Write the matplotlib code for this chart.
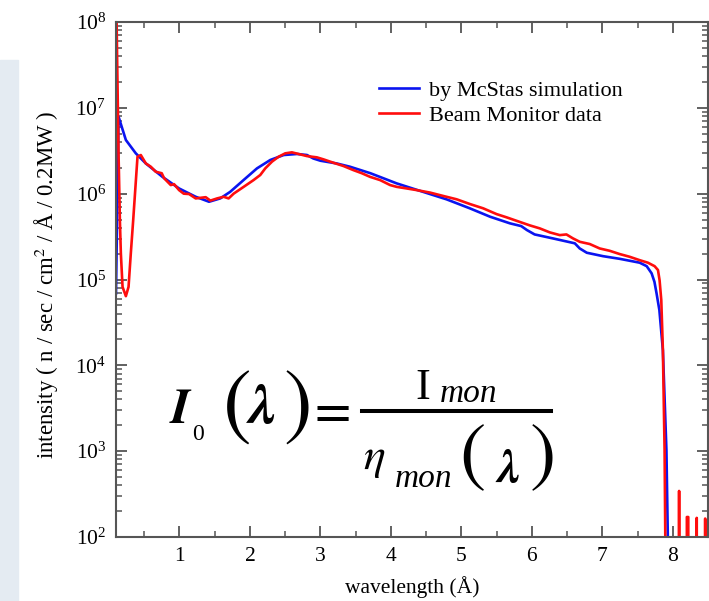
import matplotlib
matplotlib.use("Agg")
import matplotlib.pyplot as plt
from matplotlib.lines import Line2D
from matplotlib.patches import Rectangle
from matplotlib.ticker import LogLocator, MultipleLocator, NullFormatter

plt.rcParams['font.family'] = ['Liberation Serif', 'DejaVu Serif']
plt.rcParams['mathtext.fontset'] = 'stix'

# McStas simulation (wavelength in A, intensity)
sim_wl = [0.10, 0.136, 0.24, 0.381, 0.523, 0.759, 0.995, 1.231, 1.42, 1.58,
          1.72, 1.91, 2.10, 2.29, 2.48, 2.67, 2.81, 2.90, 3.00, 3.23,
          3.42, 3.71, 4.08, 4.41, 4.79, 5.12, 5.41, 5.69, 5.85, 5.93,
          6.04, 6.30, 6.61, 6.68, 6.78, 7.01, 7.25, 7.53, 7.63, 7.70,
          7.74, 7.77, 7.81, 7.86, 7.91, 7.93, 7.95]
sim_int = [6.9e4, 7.89e6, 4.22e6, 2.95e6, 2.25e6, 1.57e6, 1.15e6, 9.2e5, 8.05e5, 8.81e5,
           1.05e6, 1.44e6, 1.97e6, 2.47e6, 2.82e6, 2.90e6, 2.82e6, 2.57e6, 2.42e6, 2.25e6,
           2.06e6, 1.73e6, 1.32e6, 1.08e6, 8.59e5, 6.75e5, 5.38e5, 4.51e5, 4.19e5, 3.77e5,
           3.35e5, 3.01e5, 2.64e5, 2.30e5, 2.05e5, 1.87e5, 1.74e5, 1.57e5, 1.43e5, 1.18e5,
           9.4e4, 6.9e4, 4.4e4, 1.5e4, 1.03e3, 100, 0]

# Beam monitor data
mon_wl = [0.10, 0.108, 0.122, 0.136, 0.155, 0.169, 0.193, 0.24, 0.278, 0.31,
          0.344, 0.405, 0.452, 0.523, 0.594, 0.664, 0.749, 0.783, 0.877, 0.924,
          0.995, 1.061, 1.137, 1.231, 1.373, 1.439, 1.534, 1.627, 1.698, 1.769,
          1.911, 2.052, 2.147, 2.218, 2.313, 2.406, 2.501, 2.596, 2.69, 2.809,
          2.95, 3.044, 3.186, 3.327, 3.469, 3.588, 3.705, 3.847, 3.989, 4.084,
          4.225, 4.367, 4.555, 4.744, 4.933, 5.122, 5.31, 5.50, 5.642, 5.783,
          5.972, 6.113, 6.255, 6.397, 6.491, 6.585, 6.68, 6.822, 6.963, 7.105,
          7.246, 7.388, 7.53, 7.647, 7.742, 7.79, 7.813, 7.837, 7.86, 7.884,
          7.894, 7.91, 8.08, 8.09, 8.10, 8.19, 8.20, 8.22, 8.23, 8.33,
          8.34, 8.35, 8.45, 8.46, 8.47]
mon_int = [2.0e8, 1.05e8, 1.76e7, 2.95e6, 4.92e5, 2.01e5, 8.2e4, 6.4e4, 8.2e4, 2.01e5,
           4.92e5, 2.69e6, 2.82e6, 2.25e6, 2.06e6, 1.80e6, 1.73e6, 1.51e6, 1.26e6, 1.29e6,
           1.10e6, 1.0e6, 9.9e5, 8.8e5, 9.1e5, 8.3e5, 8.8e5, 9.2e5, 8.8e5, 1.0e6,
           1.20e6, 1.44e6, 1.65e6, 1.97e6, 2.36e6, 2.69e6, 2.95e6, 3.03e6, 2.90e6, 2.74e6,
           2.65e6, 2.51e6, 2.29e6, 2.10e6, 1.88e6, 1.73e6, 1.57e6, 1.44e6, 1.26e6, 1.20e6,
           1.15e6, 1.10e6, 1.03e6, 9.4e5, 8.6e5, 7.57e5, 6.75e5, 5.78e5, 5.30e5, 4.83e5,
           4.27e5, 3.94e5, 3.54e5, 3.29e5, 3.35e5, 3.01e5, 2.75e5, 2.59e5, 2.30e5, 2.16e5,
           1.98e5, 1.84e5, 1.68e5, 1.57e5, 1.43e5, 1.29e5, 9.8e4, 5.75e4, 1.5e4, 1.03e3,
           100, 0, 0, 344, 0, 0, 171, 171, 0, 0,
           167, 0, 0, 164, 0]

W, H = 709, 601
fig = plt.figure(figsize=(W / 100, H / 100), dpi=100)
ax = fig.add_axes([116 / W, 1 - 537 / H, 592 / W, 515 / H])

# faint watermark strip on the left edge
fig.patches.append(Rectangle((0, 0), 18 / W, 0.9, transform=fig.transFigure,
                             color='#e4ebf2', zorder=0))

ax.plot(sim_wl, sim_int, color='#0a14f0', lw=1.9, label='by McStas simulation')
ax.plot(mon_wl, mon_int, color='#ff0d0d', lw=1.9, label='Beam Monitor data')

ax.set_yscale('log')
ax.set_xlim(0.1, 8.5)
ax.set_ylim(1e2, 1e8)
ax.xaxis.set_major_locator(MultipleLocator(1))
ax.xaxis.set_minor_locator(MultipleLocator(0.5))
ax.yaxis.set_major_locator(LogLocator(base=10, numticks=10))
ax.yaxis.set_minor_locator(LogLocator(base=10, subs=range(2, 10), numticks=20))
ax.yaxis.set_minor_formatter(NullFormatter())

for s in ax.spines.values():
    s.set_color('#555555')
    s.set_linewidth(1.5)
ax.tick_params(which='both', direction='in', top=True, right=True, color='#555555',
               labelsize=15.5)
ax.tick_params(which='major', length=8, width=1.3, pad=7)
ax.tick_params(which='minor', length=4.5, width=1.1)

ax.set_xlabel('wavelength (Å)', fontsize=15.5)
ax.xaxis.set_label_coords(0.5, -0.075)
ax.set_ylabel('intensity ( n / sec / cm$^{2}$ / Å / 0.2MW )', fontsize=16.5)
ax.yaxis.set_label_coords(-0.093, 0.49)

ax.legend(loc='upper left', bbox_to_anchor=(379 / W, 1 - 80 / H),
          bbox_transform=fig.transFigure, frameon=False, fontsize=16,
          handlelength=1.8, handletextpad=0.45, borderpad=0, borderaxespad=0,
          labelspacing=0.2)


# formula, built from pieces placed in pixel coordinates
def ftext(x, y, s, size, va='baseline', **kw):
    fig.text(x / W, 1 - y / H, s, fontsize=size, ha='left', va=va, **kw)


ftext(169, 423, r'$\mathbfit{I}$', 36)
ftext(192, 440, '0', 17)
ftext(222, 408, r'$($', 62, va='center')
ftext(246, 423, r'$\mathbfit{\lambda}$', 41)
ftext(283, 408, r'$)$', 62, va='center')
ftext(307, 413, r'$=$', 38, va='center')
fig.add_artist(Line2D([362 / W, 551 / W], [1 - 411 / H, 1 - 411 / H],
                      color='black', lw=2.9, transform=fig.transFigure))
ftext(415, 399, 'I', 32)
ftext(440, 402, 'mon', 24, style='italic')
ftext(363, 469, r'$\eta$', 33)
ftext(395, 487, 'mon', 24, style='italic')
ftext(459, 458.5, r'$($', 57, va='center')
ftext(495, 482, r'$\mathbfit{\lambda}$', 34)
ftext(529, 458.5, r'$)$', 57, va='center')

fig.savefig('out.png', dpi=100)
